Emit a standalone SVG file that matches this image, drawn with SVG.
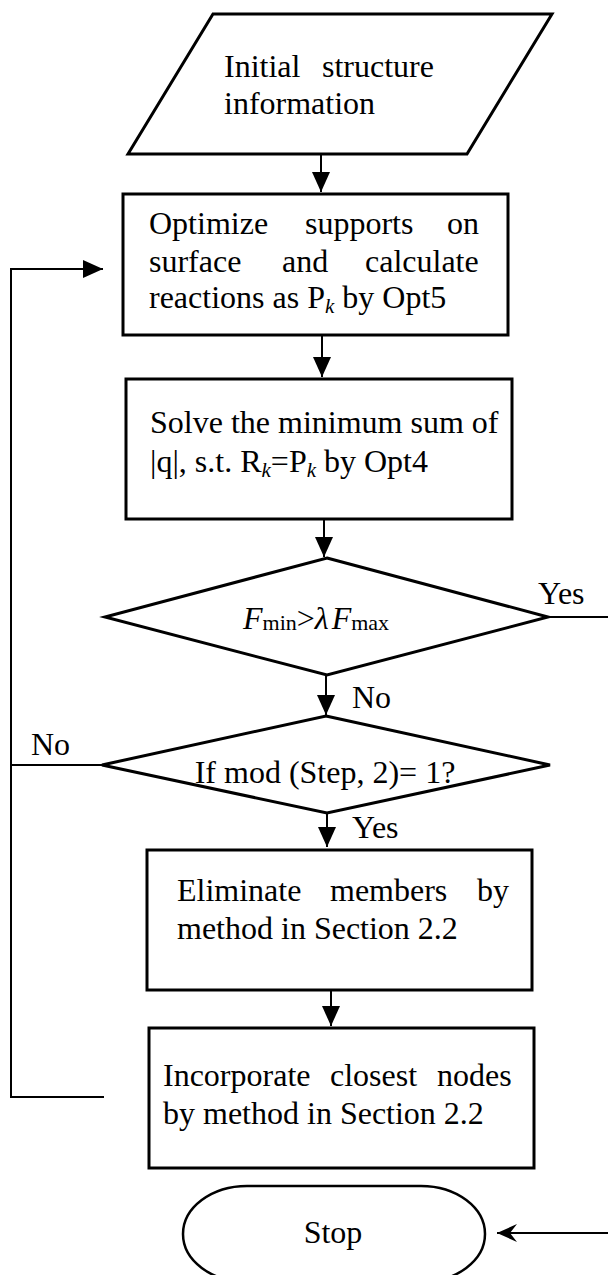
<svg xmlns="http://www.w3.org/2000/svg" width="608" height="1275" viewBox="0 0 608 1275">
<style>
.shape{fill:#fff;stroke:#000;stroke-width:3}
.t{font-family:"Liberation Serif","Times New Roman",serif;font-size:32px;fill:#000}
.sub{font-size:21px;font-style:italic}
.sb{font-size:22px}
.it{font-style:italic}
.conn{stroke:#000;stroke-width:2;fill:none}
</style>
<defs>
<marker id="arr" markerUnits="userSpaceOnUse" markerWidth="20" markerHeight="18" refX="20" refY="9" orient="auto">
<path d="M0,0 L20,9 L0,18 Z" fill="#000"/>
</marker>
<marker id="stealth" markerUnits="userSpaceOnUse" markerWidth="20" markerHeight="18" refX="20" refY="9" orient="auto">
<path d="M0,0 L20,9 L0,18 L7,9 Z" fill="#000"/>
</marker>
</defs>
<rect width="608" height="1275" fill="#fff"/>

<g id="connectors">
<line class="conn" x1="321" y1="155" x2="321" y2="192" marker-end="url(#arr)"/>
<line class="conn" x1="322" y1="336" x2="322" y2="377" marker-end="url(#arr)"/>
<line class="conn" x1="324" y1="520" x2="324" y2="557" marker-end="url(#arr)"/>
<line class="conn" x1="326" y1="676" x2="326" y2="715" marker-end="url(#arr)"/>
<line class="conn" x1="327" y1="814" x2="327" y2="847" marker-end="url(#arr)"/>
<line class="conn" x1="331" y1="991" x2="331" y2="1026" marker-end="url(#arr)"/>
<line class="conn" x1="548" y1="617" x2="608" y2="617"/>
<line class="conn" x1="102" y1="765" x2="11" y2="765"/>
<polyline class="conn" points="104,1097 11,1097 11,269 103,269" marker-end="url(#arr)"/>
<line class="conn" x1="608" y1="1233" x2="497" y2="1233" marker-end="url(#stealth)"/>
<text class="t" x="538" y="604">Yes</text>
<text class="t" x="352" y="708">No</text>
<text class="t" x="31" y="755">No</text>
<text class="t" x="352" y="838">Yes</text>
</g>

<g id="start">
<polygon class="shape" points="213,14 552,14 467,154 128,154"/>
<text class="t" y="77"><tspan x="224">Initial</tspan><tspan x="322">structure</tspan></text>
<text class="t" x="224" y="114">information</text>
</g>

<g id="optimize">
<rect class="shape" x="123" y="194" width="385" height="141"/>
<text class="t" y="234"><tspan x="149">Optimize</tspan><tspan x="305">supports</tspan><tspan x="447">on</tspan></text>
<text class="t" y="272"><tspan x="149">surface</tspan><tspan x="282">and</tspan><tspan x="365">calculate</tspan></text>
<text class="t" x="149" y="308">reactions as P<tspan class="sub" dy="5">k</tspan><tspan dy="-5"> by Opt5</tspan></text>
</g>

<g id="solve">
<rect class="shape" x="126" y="379" width="386" height="140"/>
<text class="t" x="150" y="433">Solve the minimum sum of</text>
<text class="t" x="150" y="472">|q|, s.t. R<tspan class="sub" dy="5">k</tspan><tspan dy="-5">=P</tspan><tspan class="sub" dy="5">k</tspan><tspan dy="-5"> by Opt4</tspan></text>
</g>

<g id="check-force">
<polygon class="shape" points="327,558 548,617 327,675 105,617"/>
<text class="t" x="243" y="629"><tspan class="it">F</tspan><tspan class="sb" dy="1">min</tspan><tspan dy="-1">&gt;</tspan><tspan class="it">λ</tspan><tspan class="it" dx="3">F</tspan><tspan class="sb" dy="1">max</tspan></text>
</g>

<g id="check-step">
<polygon class="shape" points="326,716 550,765 327,813 102,765"/>
<text class="t" x="325" y="783" text-anchor="middle">If mod (Step, 2)= 1?</text>
</g>

<g id="eliminate">
<rect class="shape" x="147" y="850" width="385" height="140"/>
<text class="t" y="901"><tspan x="177">Eliminate</tspan><tspan x="330">members</tspan><tspan x="477">by</tspan></text>
<text class="t" x="177" y="939">method in Section 2.2</text>
</g>

<g id="incorporate">
<rect class="shape" x="149" y="1028" width="385" height="140"/>
<text class="t" y="1086"><tspan x="163">Incorporate</tspan><tspan x="330">closest</tspan><tspan x="437">nodes</tspan></text>
<text class="t" x="163" y="1124">by method in Section 2.2</text>
</g>

<g id="stop">
<rect x="183" y="1186" width="302" height="96" rx="64" ry="48" fill="#fff" stroke="#000" stroke-width="2.5"/>
<text class="t" x="333" y="1243" text-anchor="middle">Stop</text>
</g>
</svg>
